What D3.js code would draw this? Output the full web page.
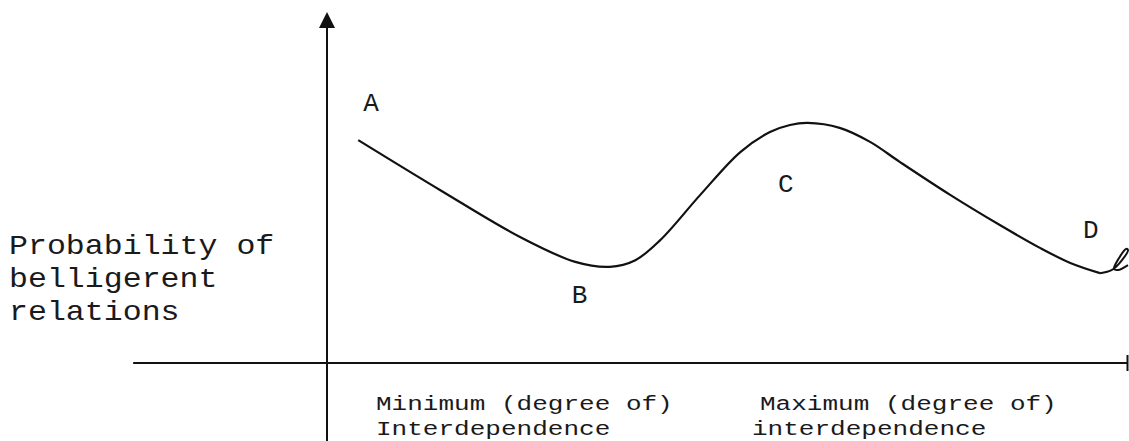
<!DOCTYPE html>
<html>
<head>
<meta charset="utf-8">
<script src="https://cdn.jsdelivr.net/npm/d3@7"></script>
<style>
  html, body { margin: 0; padding: 0; background: #fff; }
  text { font-family: "Liberation Mono", "Courier New", monospace; fill: #1a1a1a; }
</style>
</head>
<body>
<div id="chart-div"></div>
<script>
// Constants for the chart
const WIDTH = 1129;
const HEIGHT = 441;

// curve, in abstract units: x = degree of interdependence, y = probability
const curveX = [39, 141, 241, 310, 353, 385, 416, 466, 516, 553, 578, 600, 640, 678, 715, 778, 840, 890, 928, 965];
const curveY = [63.5, 49.3, 35.9, 28.8, 27.4, 29.3, 35.0, 47.9, 60.1, 65.8, 67.8, 68.4, 67.0, 63.0, 57.3, 47.9, 39.3, 32.8, 28.5, 25.6];

// the little pen hook at the end of the curve
const hookX = [965, 980, 992.5, 1000, 997.5, 988.8, 982.5, 987.5, 1000];
const hookY = [25.6, 26.5, 29.3, 32.2, 32.5, 29.9, 26.8, 26.5, 27.9];

// letters and the curve point each belongs to
const pointLabels = ["A", "B", "C", "D"];
const pointIndex = [0, 4, 9, 19];

const yAxisLabel = ["Probability of", "belligerent", "relations"];
const minLabel = ["Minimum (degree of)", "Interdependence"];
const maxLabel = ["Maximum (degree of)", "interdependence"];

setup();

function setup() {
  let svg = d3
    .select("#chart-div")
    .append("svg")
    .attr("width", WIDTH)
    .attr("height", HEIGHT);

  svg.append("rect").attr("width", WIDTH).attr("height", HEIGHT).attr("fill", "#fff");

  let xScale = d3.scaleLinear().domain([0, 1000]).range([327, 1128]);
  let yScale = d3.scaleLinear().domain([0, 100]).range([363, 12]);

  // axes (hand drawn style: no ticks)
  svg.append("line")
    .attr("x1", xScale(-242)).attr("x2", xScale(1000))
    .attr("y1", yScale(0)).attr("y2", yScale(0))
    .attr("stroke", "#111").attr("stroke-width", 2);
  // end bar of the x axis
  svg.append("line")
    .attr("x1", xScale(1000) - 0.5).attr("x2", xScale(1000) - 0.5)
    .attr("y1", yScale(0) - 8).attr("y2", yScale(0) + 8)
    .attr("stroke", "#111").attr("stroke-width", 2);

  svg.append("line")
    .attr("x1", xScale(0)).attr("x2", xScale(0))
    .attr("y1", HEIGHT).attr("y2", yScale(100) + 12)
    .attr("stroke", "#111").attr("stroke-width", 2);
  // arrow head
  let tipX = xScale(0), tipY = yScale(100);
  svg.append("path")
    .attr("d", `M${tipX},${tipY} L${tipX - 8},${tipY + 16} L${tipX + 8},${tipY + 16} Z`)
    .attr("fill", "#111");

  // curve
  let curveData = curveX.map((x, i) => ({ x: x, y: curveY[i] }));
  let hookData = hookX.map((x, i) => ({ x: x, y: hookY[i] }));
  let line = d3.line()
    .x((d) => xScale(d.x))
    .y((d) => yScale(d.y))
    .curve(d3.curveCatmullRom.alpha(0.5));

  svg.append("path").datum(curveData)
    .attr("d", line)
    .attr("fill", "none").attr("stroke", "#111").attr("stroke-width", 2.2);
  svg.append("path").datum(hookData)
    .attr("d", line)
    .attr("fill", "none").attr("stroke", "#111").attr("stroke-width", 2)
    .attr("stroke-linejoin", "round");

  // letters A-D
  const offsets = [[5, -29], [-38, 36], [8, 60], [-17, -35]];
  svg.selectAll("text.pt")
    .data(pointLabels)
    .join("text")
    .attr("class", "pt")
    .attr("x", (d, i) => xScale(curveData[pointIndex[i]].x) + offsets[i][0])
    .attr("y", (d, i) => yScale(curveData[pointIndex[i]].y) + offsets[i][1])
    .attr("font-size", 26)
    .text((d) => d);

  // y label (the original type is a bit wide, so stretch it)
  svg.selectAll("text.ylab")
    .data(yAxisLabel)
    .join("text")
    .attr("class", "ylab")
    .attr("transform", (d, i) => `translate(9,${254 + i * 33}) scale(1.17,1)`)
    .attr("font-size", 27)
    .text((d) => d);

  // x labels
  svg.selectAll("text.minlab")
    .data(minLabel)
    .join("text")
    .attr("class", "minlab")
    .attr("transform", (d, i) => `translate(376,${410 + i * 25}) scale(1.24,1)`)
    .attr("font-size", 21)
    .text((d) => d);

  svg.selectAll("text.maxlab")
    .data(maxLabel)
    .join("text")
    .attr("class", "maxlab")
    .attr("transform", (d, i) => `translate(${i === 0 ? 760 : 752},${410 + i * 25}) scale(1.24,1)`)
    .attr("font-size", 21)
    .text((d) => d);
}
</script>
</body>
</html>
